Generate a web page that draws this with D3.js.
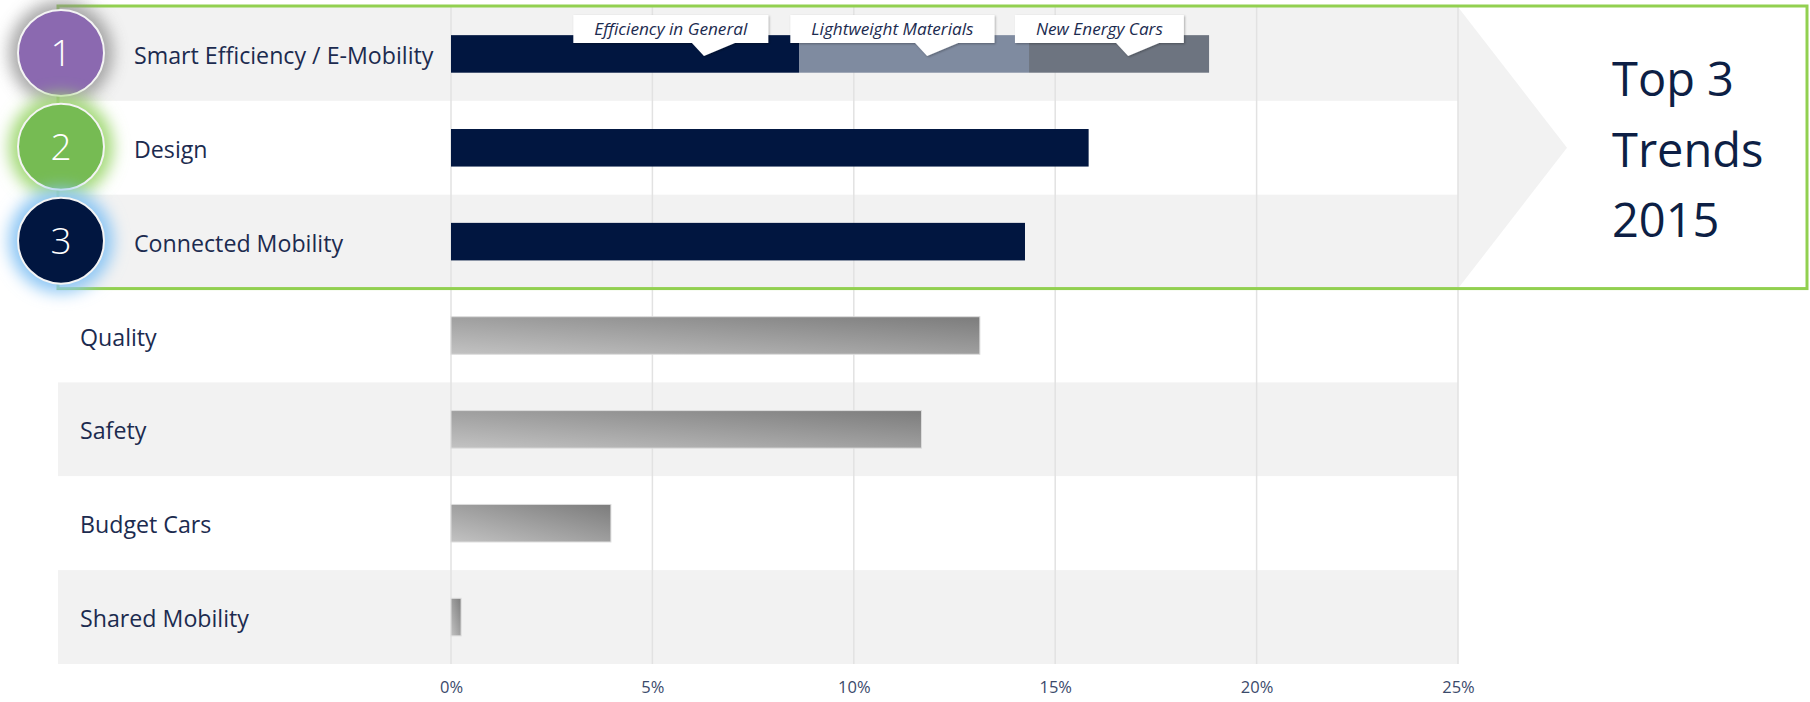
<!DOCTYPE html>
<html lang="en">

<head>
  <meta charset="utf-8">
  <title>Top 3 Trends 2015</title>
  <script type="text/javascript" src="https://d3js.org/d3.v7.min.js"></script>
  <style>
    body {
        margin: 0;
        background: #ffffff;
    }
    text {
        font-family: "Open Sans", "Noto Sans", sans-serif;
    }
  </style>
</head>

<body>
  <div id="container"></div>
  <script type="text/javascript">
    var w = 1810;
    var h = 702;

    // data
    var categories = ["Smart Efficiency / E-Mobility", "Design", "Connected Mobility",
                      "Quality", "Safety", "Budget Cars", "Shared Mobility"];
    var shares = [0.1882, 0.1583, 0.1425, 0.1313, 0.1168, 0.0397, 0.0025];
    var subTrends = ["Efficiency in General", "Lightweight Materials", "New Energy Cars"];
    var subShares = [0.0864, 0.0571, 0.0447];
    var calloutAt = [0.0628, 0.1182, 0.1681];
    var ranks = ["1", "2", "3"];
    var tickValues = [0, 0.05, 0.10, 0.15, 0.20, 0.25];
    var titleLines = ["Top 3", "Trends", "2015"];

    var navy = "#011640";
    var textColor = "#1c2b4f";
    var rankColors = ["#8b69b0", "#76bb53", navy];
    var glowColors = ["#8a8a8a", "#a3d977", "#8cc6f4"];
    var subColors = [navy, "#7f8ba0", "#6d7480"];

    var svg = d3.select("#container").append("svg")
      .attr("width", w)
      .attr("height", h)
      .style("background-color", "#ffffff");

    var x = d3.scaleLinear()
      .domain([0, 0.25])
      .range([451, 1458]);

    var y = d3.scaleBand()
      .domain(categories)
      .range([7, 664]);

    var bw = y.bandwidth();
    var barH = bw * 0.4;
    var leftEdge = 58;

    var defs = svg.append("defs");

    var grad = defs.append("linearGradient")
      .attr("id", "greyBar")
      .attr("x1", 0).attr("y1", 1)
      .attr("x2", 1).attr("y2", 0);
    grad.append("stop").attr("offset", "0%").attr("stop-color", "#c2c2c2");
    grad.append("stop").attr("offset", "100%").attr("stop-color", "#7c7c7c");

    defs.append("filter")
      .attr("id", "glow")
      .attr("x", "-60%").attr("y", "-60%")
      .attr("width", "220%").attr("height", "220%")
      .append("feGaussianBlur")
      .attr("stdDeviation", 8);

    var shadow = defs.append("filter")
      .attr("id", "shadow")
      .attr("x", "-20%").attr("y", "-40%")
      .attr("width", "140%").attr("height", "180%");
    shadow.append("feDropShadow")
      .attr("dx", 1).attr("dy", 1)
      .attr("stdDeviation", 1.2)
      .attr("flood-color", "#000")
      .attr("flood-opacity", 0.3);

    // row bands
    svg.selectAll("rect.band")
      .data(categories)
      .enter()
      .append("rect")
      .attr("class", "band")
      .attr("x", leftEdge)
      .attr("y", function(d) { return y(d); })
      .attr("width", x(0.25) - leftEdge)
      .attr("height", bw)
      .attr("fill", function(d, i) { return i % 2 == 0 ? "#f2f2f2" : "#ffffff"; });

    // arrow pointing to the top 3 box
    var topY = y(categories[0]);
    var botY = y(categories[2]) + bw;
    svg.append("polygon")
      .attr("points", [[x(0.25), topY], [x(0.25) + 109, (topY + botY) / 2], [x(0.25), botY]].join(" "))
      .attr("fill", "#f2f2f2");

    // grid
    svg.selectAll("line.grid")
      .data(tickValues)
      .enter()
      .append("line")
      .attr("class", "grid")
      .attr("x1", function(d) { return x(d); })
      .attr("x2", function(d) { return x(d); })
      .attr("y1", 7)
      .attr("y2", 664)
      .attr("stroke", "#e2e2e2")
      .attr("stroke-width", 1.5);

    // stacked first bar
    var starts = d3.cumsum([0].concat(subShares));
    svg.selectAll("rect.sub")
      .data(subShares)
      .enter()
      .append("rect")
      .attr("class", "sub")
      .attr("x", function(d, i) { return x(starts[i]); })
      .attr("y", y(categories[0]) + (bw - barH) / 2)
      .attr("width", function(d) { return x(d) - x(0); })
      .attr("height", barH)
      .attr("fill", function(d, i) { return subColors[i]; });

    // other bars
    svg.selectAll("rect.bar")
      .data(categories.slice(1))
      .enter()
      .append("rect")
      .attr("class", "bar")
      .attr("x", x(0))
      .attr("y", function(d) { return y(d) + (bw - barH) / 2; })
      .attr("width", function(d, i) { return x(shares[i + 1]) - x(0); })
      .attr("height", barH)
      .attr("fill", function(d, i) { return i < 2 ? navy : "url(#greyBar)"; })
      .attr("stroke", function(d, i) { return i < 2 ? "none" : "#dcdcdc"; })
      .attr("stroke-width", 1);

    // callouts
    var callouts = svg.selectAll("g.callout")
      .data(subTrends)
      .enter()
      .append("g")
      .attr("class", "callout");

    callouts.each(function(d, i) {
      var g = d3.select(this);
      var label = g.append("text")
        .attr("y", 35)
        .attr("font-size", 17.2)
        .attr("font-style", "italic")
        .attr("fill", textColor)
        .attr("text-anchor", "middle")
        .text(d);
      var tw = label.node().getComputedTextLength();
      var bwid = tw + 42;
      var tip = x(calloutAt[i]);
      var left = tip - bwid * 0.67;
      var top = 15, bottom = 43;
      var path = d3.path();
      path.moveTo(left, top);
      path.lineTo(left + bwid, top);
      path.lineTo(left + bwid, bottom);
      path.lineTo(tip + 31, bottom);
      path.lineTo(tip, 56);
      path.lineTo(tip - 12, bottom);
      path.lineTo(left, bottom);
      path.closePath();
      g.insert("path", "text")
        .attr("d", path.toString())
        .attr("fill", "#ffffff")
        .attr("filter", "url(#shadow)");
      label.attr("x", left + bwid / 2);
    });

    // green box round the top 3
    svg.append("rect")
      .attr("x", leftEdge)
      .attr("y", topY - 1)
      .attr("width", 1807 - leftEdge)
      .attr("height", botY - topY + 1)
      .attr("fill", "none")
      .attr("stroke", "#92d050")
      .attr("stroke-width", 3);

    // rank circles
    var rank = svg.selectAll("g.rank")
      .data(ranks)
      .enter()
      .append("g")
      .attr("class", "rank")
      .attr("transform", function(d, i) {
        return "translate(61," + (y(categories[i]) + bw / 2 - 1) + ")";
      });

    rank.append("circle")
      .attr("r", 52)
      .attr("fill", function(d, i) { return glowColors[i]; })
      .attr("opacity", function(d, i) { return i == 0 ? 0.75 : 1; })
      .attr("filter", "url(#glow)");

    rank.append("circle")
      .attr("r", 43)
      .attr("fill", function(d, i) { return rankColors[i]; })
      .attr("stroke", "#f4f4f4")
      .attr("stroke-width", 2);

    rank.append("text")
      .attr("text-anchor", "middle")
      .attr("y", 13)
      .attr("font-size", 37)
      .attr("font-weight", 300)
      .attr("fill", "#ffffff")
      .text(function(d) { return d; });

    // category labels
    svg.selectAll("text.cat")
      .data(categories)
      .enter()
      .append("text")
      .attr("class", "cat")
      .attr("x", function(d, i) { return i < 3 ? 134 : 80; })
      .attr("y", function(d) { return y(d) + bw / 2 + 10; })
      .attr("font-size", 23.2)
      .attr("fill", textColor)
      .text(function(d) { return d; });

    // x axis
    var axis = svg.append("g")
      .attr("transform", "translate(0,681)")
      .call(d3.axisBottom(x)
        .tickValues(tickValues)
        .tickFormat(d3.format(".0%"))
        .tickSize(0)
        .tickPadding(0));
    axis.select(".domain").remove();
    axis.selectAll("text")
      .attr("font-family", "'Open Sans', sans-serif")
      .attr("font-size", 16.5)
      .attr("fill", "#3b4a6b");

    // title in the box
    svg.selectAll("text.title")
      .data(titleLines)
      .enter()
      .append("text")
      .attr("class", "title")
      .attr("x", 1612)
      .attr("y", function(d, i) { return 96 + i * 70.5; })
      .attr("font-size", 47)
      .attr("fill", "#0d1f45")
      .text(function(d) { return d; });
  </script>
</body>

</html>
